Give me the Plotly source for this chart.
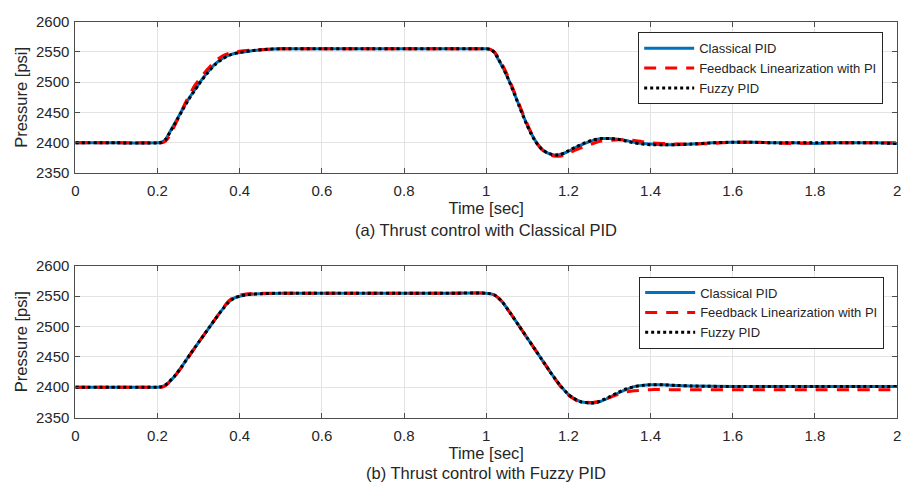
import plotly.graph_objects as go

# ---- data (a) Thrust control with Classical PID ----
t_a = [0, 0.1, 0.2, 0.21, 0.22, 0.23, 0.24, 0.25, 0.26, 0.27,
       0.28, 0.29, 0.30, 0.32, 0.34, 0.36, 0.38, 0.40, 0.43, 0.46,
       0.5, 0.6, 0.7, 0.8, 0.9, 1.0, 1.01, 1.02, 1.03, 1.04,
       1.05, 1.06, 1.07, 1.08, 1.09, 1.10, 1.11, 1.12, 1.13, 1.14,
       1.15, 1.16, 1.17, 1.18, 1.19, 1.20, 1.22, 1.24, 1.26, 1.28,
       1.30, 1.32, 1.34, 1.36, 1.38, 1.40, 1.43, 1.46, 1.50, 1.55,
       1.60, 1.65, 1.70, 1.75, 1.80, 1.85, 1.90, 1.95, 2.0]

classical_a = [2400, 2400, 2400, 2401, 2406, 2418, 2430, 2442, 2454, 2466,
               2477, 2487, 2497, 2515, 2530, 2540, 2546, 2549, 2552, 2554,
               2555, 2555, 2555, 2555, 2555, 2555, 2554, 2549, 2537, 2525,
               2511, 2496, 2479, 2462, 2445, 2429, 2415, 2403, 2394, 2387,
               2383, 2381, 2380, 2381, 2383, 2386, 2393, 2399, 2404, 2407,
               2407, 2406, 2404, 2401, 2399, 2398, 2397, 2397, 2398, 2400,
               2401, 2401, 2400, 2400, 2399, 2400, 2400, 2400, 2399]

feedback_a = [2400, 2400, 2400, 2400, 2403, 2412, 2426, 2440, 2455, 2469,
              2482, 2494, 2503, 2520, 2535, 2544, 2549, 2551, 2553, 2554,
              2555, 2555, 2555, 2555, 2555, 2555, 2554, 2550, 2540, 2528,
              2514, 2498, 2481, 2464, 2447, 2431, 2416, 2403, 2393, 2386,
              2382, 2379, 2378, 2378, 2380, 2383, 2389, 2394, 2399, 2403,
              2404, 2405, 2405, 2404, 2402, 2400, 2399, 2398, 2398, 2399,
              2401, 2401, 2400, 2399, 2400, 2400, 2400, 2400, 2400]

fuzzy_a = [2400, 2400, 2400, 2401, 2406, 2417, 2429, 2441, 2453, 2465,
           2476, 2486, 2496, 2514, 2529, 2539, 2546, 2549, 2552, 2554,
           2555, 2555, 2555, 2555, 2555, 2555, 2554, 2549, 2538, 2525,
           2511, 2495, 2478, 2461, 2444, 2428, 2414, 2402, 2393, 2387,
           2383, 2381, 2380, 2381, 2383, 2387, 2394, 2400, 2405, 2407,
           2407, 2406, 2403, 2400, 2398, 2397, 2397, 2397, 2398, 2400,
           2401, 2401, 2400, 2400, 2400, 2400, 2400, 2400, 2399]

# ---- data (b) Thrust control with Fuzzy PID ----
t_b = [0, 0.1, 0.2, 0.21, 0.22, 0.24, 0.26, 0.28, 0.30, 0.32,
       0.34, 0.36, 0.37, 0.38, 0.39, 0.40, 0.42, 0.45, 0.5, 0.6,
       0.7, 0.8, 0.9, 1.0, 1.01, 1.02, 1.03, 1.04, 1.06, 1.08,
       1.10, 1.12, 1.14, 1.16, 1.18, 1.20, 1.21, 1.22, 1.23, 1.24,
       1.25, 1.26, 1.27, 1.28, 1.30, 1.32, 1.34, 1.36, 1.38, 1.40,
       1.43, 1.46, 1.50, 1.6, 1.7, 1.8, 1.9, 2.0]

classical_b = [2400, 2400, 2400, 2401, 2404, 2417, 2435, 2455, 2474, 2493,
               2512, 2530, 2538, 2544, 2548, 2550, 2553, 2554, 2555, 2555,
               2555, 2555, 2555, 2555, 2554, 2552, 2547, 2540, 2521, 2501,
               2481, 2461, 2441, 2421, 2403, 2388, 2383, 2379, 2376, 2375,
               2374, 2374, 2375, 2377, 2383, 2390, 2396, 2401, 2403, 2404,
               2404, 2403, 2402, 2401, 2401, 2401, 2401, 2401]

feedback_b = [2400, 2400, 2400, 2400, 2403, 2416, 2434, 2454, 2474, 2493,
              2512, 2531, 2540, 2546, 2550, 2552, 2554, 2555, 2555, 2555,
              2555, 2555, 2555, 2555, 2554, 2552, 2547, 2540, 2521, 2501,
              2481, 2461, 2441, 2421, 2402, 2387, 2382, 2378, 2376, 2375,
              2375, 2375, 2376, 2378, 2383, 2388, 2392, 2394, 2395, 2396,
              2396, 2396, 2396, 2396, 2396, 2396, 2396, 2396]

fuzzy_b = [2400, 2400, 2400, 2401, 2404, 2417, 2435, 2455, 2474, 2493,
           2512, 2530, 2538, 2544, 2548, 2550, 2553, 2554, 2555, 2555,
           2555, 2555, 2555, 2555, 2554, 2552, 2547, 2540, 2521, 2501,
           2481, 2461, 2441, 2421, 2403, 2388, 2383, 2379, 2376, 2375,
           2374, 2374, 2375, 2378, 2384, 2391, 2397, 2401, 2403, 2404,
           2404, 2403, 2402, 2401, 2401, 2401, 2401, 2401]

series_names = ["Classical PID", "Feedback Linearization with PI", "Fuzzy PID"]
x_ticks = [0, 0.2, 0.4, 0.6, 0.8, 1, 1.2, 1.4, 1.6, 1.8, 2]
x_tick_text = ["0", "0.2", "0.4", "0.6", "0.8", "1", "1.2", "1.4", "1.6", "1.8", "2"]
y_ticks = [2350, 2400, 2450, 2500, 2550, 2600]
captions = ["(a) Thrust control with Classical PID", "(b) Thrust control with Fuzzy PID"]

FONT = "Liberation Sans, Arial, sans-serif"
TXT = "#262626"
W, H = 907, 497

styles = [dict(color="#0072BD", width=3, dash="solid"),
          dict(color="#FF0000", width=3, dash="12px,9px"),
          dict(color="#000000", width=3, dash="dot")]

fig = go.Figure()

panels = [
    (t_a, [classical_a, feedback_a, fuzzy_a], "x", "y", "legend"),
    (t_b, [classical_b, feedback_b, fuzzy_b], "x2", "y2", "legend2"),
]
for t, ys, xa, ya, lg in panels:
    for name, y, st in zip(series_names, ys, styles):
        fig.add_trace(go.Scatter(
            x=t, y=y, mode="lines", name=name, xaxis=xa, yaxis=ya, legend=lg,
            line=dict(color=st["color"], width=st["width"], dash=st["dash"],
                      shape="spline", smoothing=0.5),
        ))

x0, x1 = 72 / W, 901 / W
dom_a = [1 - 170 / H, 1 - 13 / H]
dom_b = [1 - 423 / H, 1 - 266 / H]

def xaxis(anchor):
    return dict(domain=[x0, x1], anchor=anchor, range=[0, 2],
                tickvals=x_ticks, ticktext=x_tick_text,
                showgrid=True, gridcolor="#e3e3e3", gridwidth=1,
                showline=True, linecolor="#4d4d4d", linewidth=1, mirror="ticks",
                ticks="inside", ticklen=5, tickcolor="#4d4d4d",
                tickfont=dict(family=FONT, size=15, color=TXT),
                ticklabelstandoff=4,
                title=dict(text="Time [sec]", font=dict(family=FONT, size=16.5, color=TXT), standoff=2),
                zeroline=False)

def yaxis(anchor, domain):
    return dict(domain=domain, anchor=anchor, range=[2350, 2600],
                tickvals=y_ticks,
                showgrid=True, gridcolor="#e3e3e3", gridwidth=1,
                showline=True, linecolor="#4d4d4d", linewidth=1, mirror="ticks",
                ticks="inside", ticklen=5, tickcolor="#4d4d4d",
                tickfont=dict(family=FONT, size=15, color=TXT),
                ticklabelstandoff=2,
                title=dict(text="Pressure [psi]", font=dict(family=FONT, size=16.5, color=TXT), standoff=4),
                zeroline=False)

legend_common = dict(
    bgcolor="white", bordercolor="#262626", borderwidth=1,
    font=dict(family=FONT, size=13, color=TXT),
    xanchor="right", yanchor="top", itemwidth=50,
    tracegroupgap=0, itemclick=False,
)

fig.update_layout(
    width=W, height=H, autosize=False,
    margin=dict(l=0, r=0, t=0, b=0),
    paper_bgcolor="white", plot_bgcolor="white",
    xaxis=xaxis("y"), yaxis=yaxis("x", dom_a),
    xaxis2=xaxis("y2"), yaxis2=yaxis("x2", dom_b),
    legend=dict(x=887 / W, y=1 - 24 / H, **legend_common),
    legend2=dict(x=888 / W, y=1 - 277 / H, **legend_common),
    annotations=[
        dict(text=captions[0], x=(x0 + x1) / 2, y=1 - 229 / H, xref="paper", yref="paper",
             showarrow=False, font=dict(family=FONT, size=16.5, color=TXT), xanchor="center", yanchor="middle"),
        dict(text=captions[1], x=(x0 + x1) / 2, y=1 - 480 / H, xref="paper", yref="paper",
             showarrow=False, font=dict(family=FONT, size=16.5, color=TXT), xanchor="center", yanchor="middle"),
    ],
)

fig.write_html("out.html", config={"displayModeBar": False},
               post_script="document.body.style.margin='0';")
